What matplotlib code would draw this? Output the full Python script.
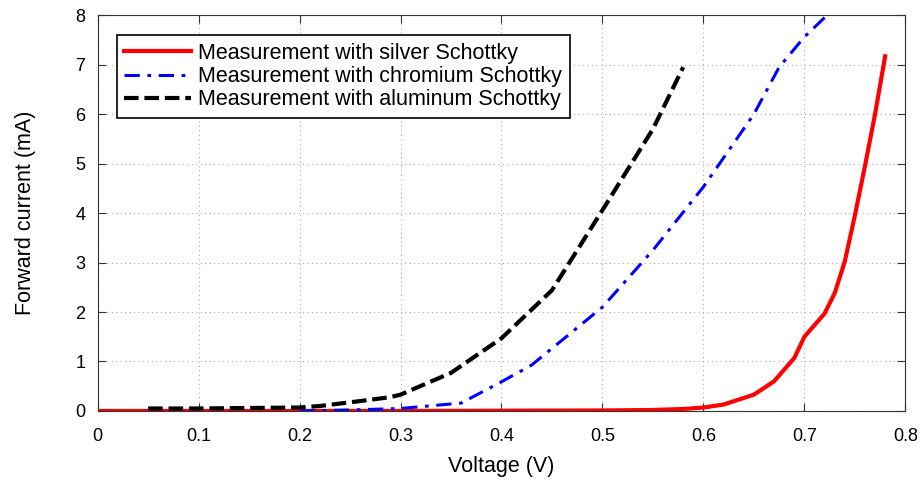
import matplotlib.pyplot as plt

plt.rcParams['font.family'] = ['Liberation Sans', 'DejaVu Sans']

# silver Schottky
v_ag = [0.0, 0.1, 0.2, 0.3, 0.4, 0.5, 0.55, 0.58, 0.6, 0.62, 0.65, 0.67, 0.69, 0.70,
        0.72, 0.73, 0.74, 0.75, 0.76, 0.77, 0.78]
i_ag = [0.0, 0.0, 0.0, 0.0, 0.005, 0.01, 0.02, 0.04, 0.07, 0.13, 0.33, 0.6, 1.07, 1.5,
        1.97, 2.38, 3.02, 3.95, 4.95, 6.0, 7.17]

# chromium Schottky
v_cr = [0.2, 0.25, 0.3, 0.36, 0.4, 0.43, 0.5, 0.55, 0.6, 0.65, 0.675, 0.7, 0.725]
i_cr = [0.0, 0.02, 0.05, 0.16, 0.59, 0.93, 2.1, 3.25, 4.53, 6.0, 6.95, 7.56, 8.05]

# aluminum Schottky
v_al = [0.05, 0.1, 0.2, 0.22, 0.26, 0.29, 0.3, 0.35, 0.4, 0.45, 0.5, 0.55, 0.58]
i_al = [0.05, 0.05, 0.07, 0.1, 0.2, 0.28, 0.33, 0.77, 1.47, 2.44, 4.06, 5.7, 6.95]

fig, ax = plt.subplots(figsize=(9.21, 4.91), dpi=100)
fig.subplots_adjust(left=0.106, right=0.983, top=0.969, bottom=0.163)

ax.plot(v_ag, i_ag, color='red', lw=3, label='Measurement with silver Schottky')
ax.plot(v_cr, i_cr, color='blue', lw=2.2, ls=(0, (5, 2.5, 1.2, 2.5)),
        label='Measurement with chromium Schottky')
ax.plot(v_al, i_al, color='black', lw=3, ls=(0, (3.5, 1.4)),
        label='Measurement with aluminum Schottky')

ax.set_xlim(0, 0.8)
ax.set_ylim(0, 8)
ax.set_xticks([0, 0.1, 0.2, 0.3, 0.4, 0.5, 0.6, 0.7, 0.8])
ax.set_xticklabels(['0', '0.1', '0.2', '0.3', '0.4', '0.5', '0.6', '0.7', '0.8'])
ax.set_yticks(range(9))
ax.tick_params(direction='in', top=True, right=True, labelsize=13, length=6,
               color='#333333')
ax.tick_params(axis='x', pad=12)
ax.tick_params(axis='y', pad=9)
ax.grid(True, ls=(0, (1, 3)), color='#aaaaaa', lw=0.8)
ax.set_xlabel('Voltage (V)', fontsize=15.5, labelpad=8)
ax.set_ylabel('Forward current (mA)', fontsize=15.5, labelpad=28)
for s in ax.spines.values():
    s.set_color('#333333')

leg = ax.legend(loc='upper left', bbox_to_anchor=(0.0235, 0.949), borderaxespad=0,
                fontsize=15.5, fancybox=False, framealpha=1, edgecolor='black',
                handlelength=3.1, borderpad=0.35, labelspacing=0.1, handletextpad=0.35)
leg.get_frame().set_linewidth(1.2)

plt.savefig('out.png')
